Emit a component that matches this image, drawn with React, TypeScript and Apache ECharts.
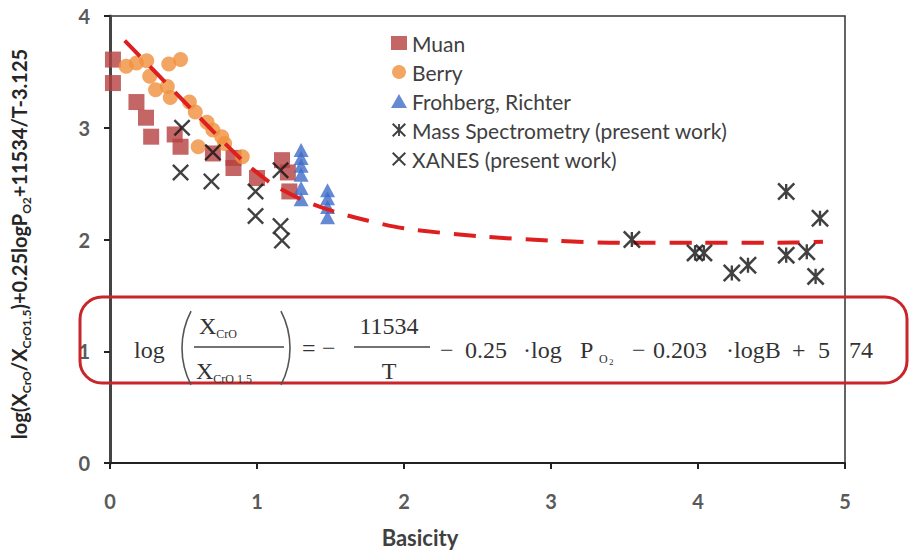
import React, { useEffect, useRef } from "react";
import * as echarts from "echarts";

// ---- data ----
const muanX = [0.02, 0.02, 0.18, 0.245, 0.28, 0.44, 0.48, 0.7, 0.84, 0.84, 1.0, 1.17, 1.21, 1.22];
const muanY = [3.61, 3.4, 3.23, 3.09, 2.92, 2.94, 2.83, 2.77, 2.73, 2.64, 2.55, 2.71, 2.6, 2.43];

const berryX = [0.11, 0.18, 0.25, 0.4, 0.48, 0.27, 0.31, 0.39, 0.41, 0.54, 0.58, 0.66, 0.7, 0.76, 0.6, 0.78, 0.9];
const berryY = [3.55, 3.58, 3.6, 3.57, 3.61, 3.46, 3.34, 3.37, 3.27, 3.23, 3.14, 3.05, 2.98, 2.92, 2.83, 2.86, 2.74];

const frohX = [1.3, 1.3, 1.3, 1.3, 1.3, 1.3, 1.48, 1.48, 1.48, 1.48];
const frohY = [2.8, 2.73, 2.66, 2.58, 2.46, 2.36, 2.44, 2.37, 2.29, 2.2];

const massX = [3.55, 3.98, 4.04, 4.23, 4.34, 4.6, 4.6, 4.74, 4.83, 4.8];
const massY = [2.0, 1.88, 1.88, 1.7, 1.77, 2.43, 1.86, 1.89, 2.19, 1.67];

const xanesX = [0.49, 0.7, 0.48, 0.69, 0.99, 1.16, 0.99, 1.16, 1.17];
const xanesY = [3.0, 2.78, 2.6, 2.52, 2.43, 2.62, 2.21, 2.12, 1.99];

const fitX = [0.1, 0.3, 0.5, 0.7, 0.9, 1.1, 1.3, 1.5, 1.75, 2.0, 2.5, 3.0, 3.5, 4.0, 4.5, 4.85];
const fitY = [3.78, 3.51, 3.24, 2.97, 2.71, 2.5, 2.36, 2.26, 2.17, 2.1, 2.03, 1.99, 1.97, 1.97, 1.97, 1.98];

const seriesNames = [
  "Muan",
  "Berry",
  "Frohberg, Richter",
  "Mass Spectrometry (present work)",
  "XANES (present work)",
];

const xTicks = { min: 0, max: 5, interval: 1 };
const yTicks = { min: 0, max: 4, interval: 1 };

const X_PATH = "path://M0,1L1,0L5,4L9,0L10,1L6,5L10,9L9,10L5,6L1,10L0,9L4,5Z";
const STAR_PATH =
  "path://M0,1L1,0L5,4L9,0L10,1L6,5L10,9L9,10L5,6L1,10L0,9L4,5Z M4.35,0.8L5.65,0.8L5.65,9.2L4.35,9.2Z";

const zip = (xs: number[], ys: number[]) => xs.map((x, i) => [x, ys[i]]);

export default function App() {
  const ref = useRef<HTMLDivElement>(null);

  useEffect(() => {
    if (!ref.current) return;
    const chart = echarts.init(ref.current, null, { renderer: "svg" });
    const sans = "Lato, 'Open Sans', sans-serif";
    const serif = "'Liberation Serif', 'Times New Roman', serif";
    const fcol = "#333";
    const FS = 24;

    const sText = (text: string, x: number, y: number, align = "left", size = FS) => ({
      type: "text",
      x,
      y,
      z: 100,
      style: {
        text,
        fill: fcol,
        fontSize: size,
        fontFamily: serif,
        align,
        verticalAlign: "middle",
      },
    });

    const subRich = {
      x: { fontSize: FS, fontFamily: serif, fill: fcol, lineHeight: 28 },
      s: { fontSize: 12, fontFamily: serif, fill: fcol, lineHeight: 13, verticalAlign: "bottom" },
    };

    const option: any = {
      animation: false,
      backgroundColor: "#fff",
      grid: {
        left: 110,
        right: 65,
        top: 16,
        bottom: 88,
        show: true,
        borderColor: "#333",
        borderWidth: 1.5,
        backgroundColor: "transparent",
      },
      legend: {
        orient: "vertical",
        left: 386,
        top: 27,
        itemGap: 7,
        itemWidth: 16,
        itemHeight: 14,
        selectedMode: false,
        textStyle: { fontSize: 21, fontFamily: sans, color: "#404040", lineHeight: 22 },
        data: seriesNames,
      },
      xAxis: {
        type: "value",
        ...xTicks,
        splitLine: { show: false },
        axisLine: { show: true, onZero: false, lineStyle: { color: "#222", width: 2 } },
        axisTick: { show: true, inside: false, length: 6, lineStyle: { color: "#222", width: 2 } },
        axisLabel: { fontSize: 20, fontWeight: "bold", fontFamily: sans, color: "#5a5a5a", margin: 28 },
      },
      yAxis: {
        type: "value",
        ...yTicks,
        splitLine: { show: false },
        axisLine: { show: true, onZero: false, lineStyle: { color: "#444", width: 3 } },
        axisTick: { show: true, inside: false, length: 6, lineStyle: { color: "#222", width: 2 } },
        axisLabel: { fontSize: 20, fontWeight: "bold", fontFamily: sans, color: "#5a5a5a", margin: 20 },
      },
      series: [
        {
          name: seriesNames[0],
          type: "scatter",
          symbol: "rect",
          symbolSize: 16,
          itemStyle: { color: "#b5403f" },
          data: zip(muanX, muanY),
          z: 2,
        },
        {
          name: seriesNames[1],
          type: "scatter",
          symbol: "circle",
          symbolSize: 15,
          itemStyle: { color: "#f0903c" },
          data: zip(berryX, berryY),
          z: 3,
        },
        {
          name: seriesNames[2],
          type: "scatter",
          symbol: "triangle",
          symbolSize: [15, 14],
          itemStyle: { color: "#3f6cc8" },
          data: zip(frohX, frohY),
          z: 4,
        },
        {
          name: "fit",
          type: "line",
          smooth: 0.3,
          symbol: "none",
          lineStyle: { color: "#dd1f1f", width: 4, type: [22, 14] },
          data: zip(fitX, fitY),
          z: 5,
        },
        {
          name: seriesNames[3],
          type: "scatter",
          symbol: STAR_PATH,
          symbolSize: 18,
          itemStyle: { color: "#111" },
          data: zip(massX, massY),
          z: 6,
        },
        {
          name: seriesNames[4],
          type: "scatter",
          symbol: X_PATH,
          symbolSize: 17,
          itemStyle: { color: "#111" },
          data: zip(xanesX, xanesY),
          z: 6,
        },
      ],
      graphic: [
        // y axis title
        {
          type: "text",
          x: 19,
          y: 244,
          rotation: Math.PI / 2,
          style: {
            text: "{a|log(X}{s|CrO}{a|/X}{s|CrO1.5}{a|)+0.25logP}{s|O2}{a|+11534/T-3.125}",
            align: "center",
            verticalAlign: "middle",
            rich: {
              a: { fontSize: 20, fontWeight: "bold", fontFamily: sans, fill: "#262626", lineHeight: 26 },
              s: {
                fontSize: 12,
                fontWeight: "bold",
                fontFamily: sans,
                fill: "#262626",
                lineHeight: 14,
                verticalAlign: "bottom",
              },
            },
          },
        },
        // x axis title
        {
          type: "text",
          x: 420,
          y: 537,
          style: {
            text: "Basicity",
            fill: "#404040",
            fontSize: 22,
            fontWeight: "bold",
            fontFamily: sans,
            align: "center",
            verticalAlign: "middle",
          },
        },
        // formula box
        {
          type: "rect",
          z: 100,
          shape: { x: 80, y: 297, width: 827, height: 86, r: 22 },
          style: { fill: "none", stroke: "#c8262a", lineWidth: 3 },
        },
        sText("log", 134, 350),
        {
          type: "arc",
          z: 100,
          shape: { cx: 262, cy: 348, r: 80, startAngle: Math.PI - 0.48, endAngle: Math.PI + 0.48 },
          style: { stroke: "#555", lineWidth: 1.6, fill: "none" },
        },
        {
          type: "arc",
          z: 100,
          shape: { cx: 210, cy: 348, r: 80, startAngle: -0.48, endAngle: 0.48 },
          style: { stroke: "#555", lineWidth: 1.6, fill: "none" },
        },
        {
          type: "text",
          x: 199,
          y: 326,
          z: 100,
          style: { text: "{x|X}{s|CrO}", rich: subRich, verticalAlign: "middle" },
        },
        {
          type: "line",
          z: 100,
          shape: { x1: 194, y1: 347, x2: 284, y2: 347 },
          style: { stroke: "#444", lineWidth: 1.3 },
        },
        {
          type: "text",
          x: 196,
          y: 371,
          z: 100,
          style: { text: "{x|X}{s|CrO 1.5}", rich: subRich, verticalAlign: "middle" },
        },
        sText("=", 302, 348),
        sText("−", 322, 348),
        sText("11534", 389, 326, "center"),
        {
          type: "line",
          z: 100,
          shape: { x1: 354, y1: 347, x2: 430, y2: 347 },
          style: { stroke: "#444", lineWidth: 1.3 },
        },
        sText("T", 389, 371, "center"),
        sText("−", 440, 350),
        sText("0.25", 465, 350),
        sText("·log", 523, 350),
        sText("P", 580, 350),
        sText("O", 599, 359, "left", 12),
        sText("2", 609, 362, "left", 9),
        sText("−", 632, 350),
        sText("0.203", 653, 350),
        sText("·logB", 726, 350),
        sText("+", 792, 350),
        sText("5", 818, 350),
        sText("74", 849, 350),
      ],
    };

    chart.setOption(option);
    return () => chart.dispose();
  }, []);

  return (
    <div
      ref={ref}
      style={{ position: "fixed", left: 0, top: 0, width: 910, height: 551, background: "#fff" }}
    />
  );
}
